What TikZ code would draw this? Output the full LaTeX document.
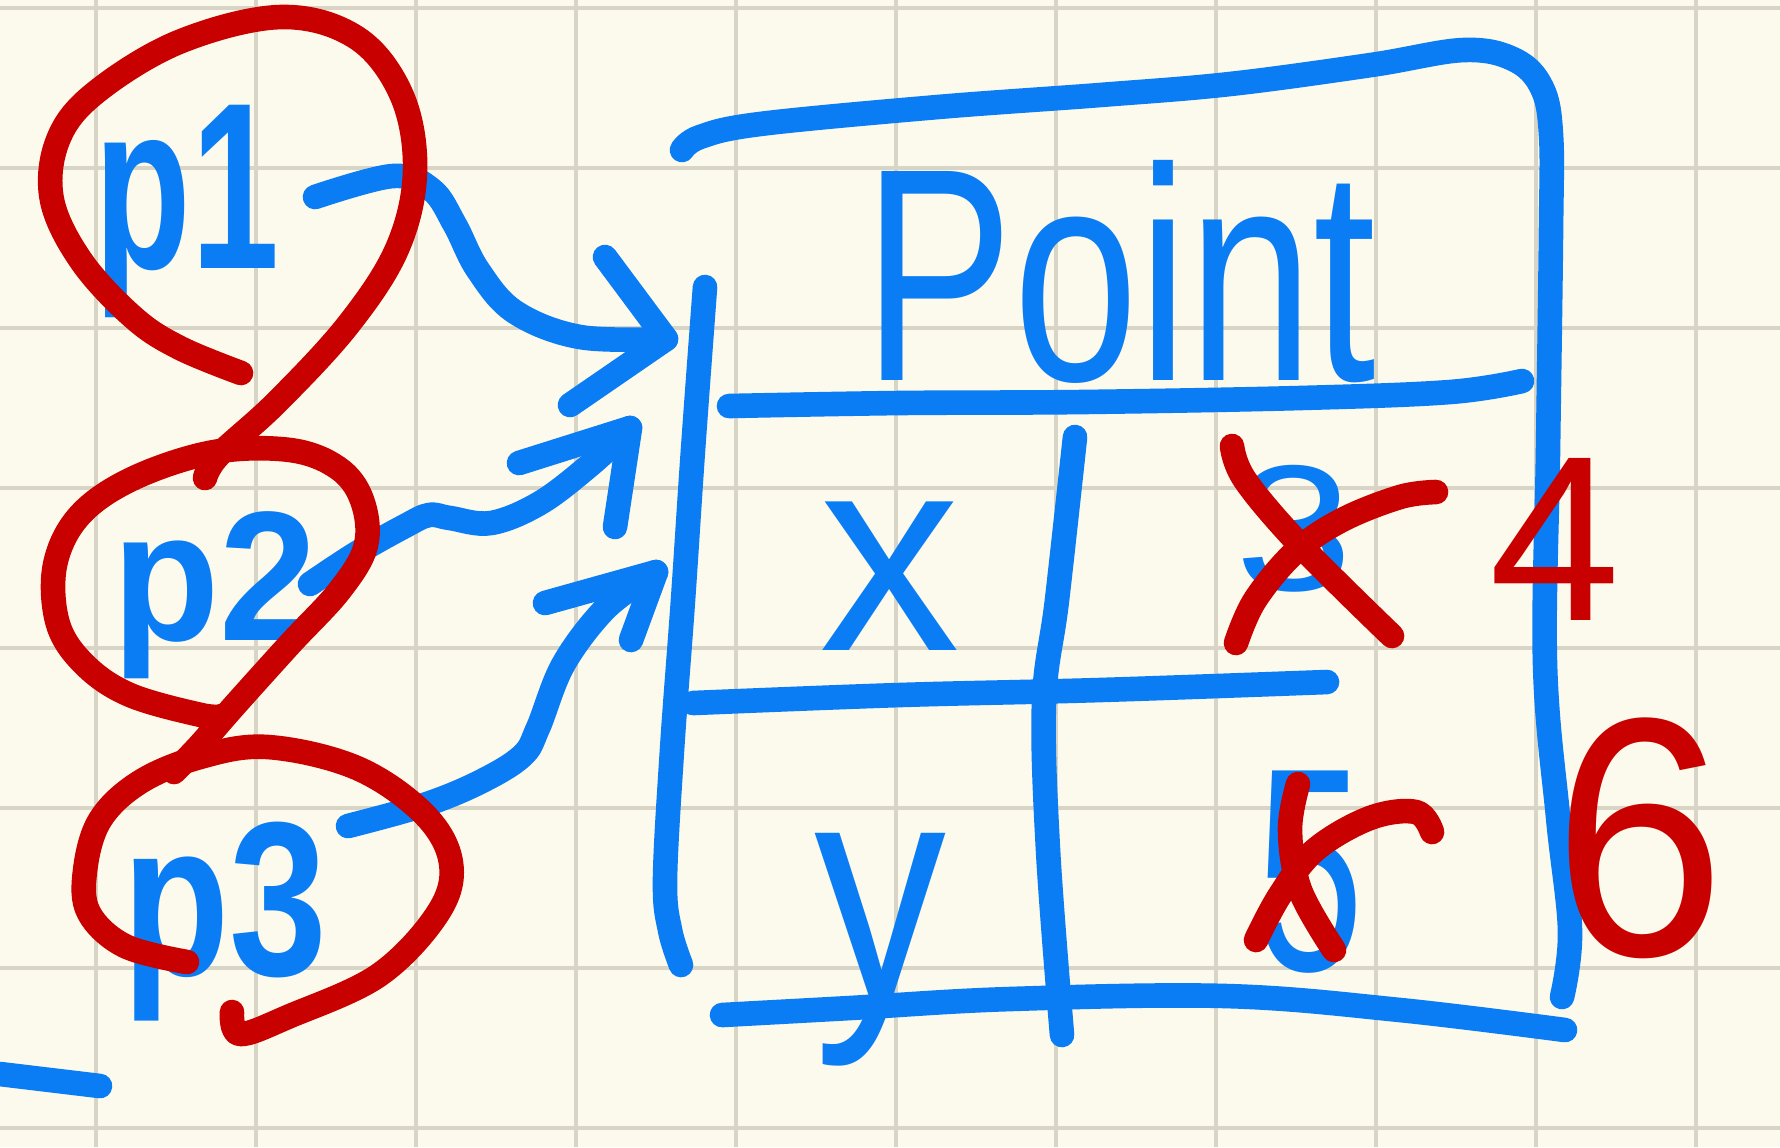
\documentclass[tikz,border=0pt]{standalone}
\usepackage{fontspec}
\setmainfont{Liberation Sans}
\definecolor{paper}{RGB}{252,250,236}
\definecolor{gridc}{RGB}{216,213,198}
\definecolor{inkblue}{RGB}{10,124,244}
\definecolor{inkred}{RGB}{200,0,0}
\tikzset{
  ink/.style={line width=7pt,line cap=round,line join=round},
  bl/.style={ink,draw=inkblue},
  rd/.style={ink,draw=inkred},
  blabel/.style={inner sep=0pt,anchor=base,text=inkblue},
  rlabel/.style={inner sep=0pt,anchor=base,text=inkred},
  fs/.style={font=\fontsize{#1}{#1}\selectfont},
  fsb/.style={font=\fontsize{#1}{#1}\selectfont\bfseries},
  gridline/.style={draw=gridc,line width=1pt},
  freehand/.style={smooth,tension=0.6},
}
\begin{document}
\begin{tikzpicture}[x=0.01cm,y=-0.01cm]
\fill[paper] (0,0) rectangle (1780,1147);
\useasboundingbox (0,0) rectangle (1780,1147);
% grid
\foreach \gx in {96,256,...,1696} \draw[gridline] (\gx,0) -- (\gx,1147);
\foreach \gy in {8,168,...,1128} \draw[gridline] (0,\gy) -- (1780,\gy);

% labels
\node[blabel,fsb=45] (p1) at (187,268) {\scalebox{1}[1.5]{p1}};
\node[blabel,fsb=50] (p2) at (215,640) {\scalebox{1}[1.05]{p2}};
\node[blabel,fsb=50] (p3) at (225,975) {\scalebox{1}[1.25]{p3}};
\node[blabel,fs=64] (point) at (1120,380) {\scalebox{1}[1.35]{Point}};
\node[blabel,fs=80] (xlab) at (890,650) {x};
\node[blabel,fs=75] (ylab) at (880,1000) {\scalebox{1}[1.2]{y}};
\node[blabel,fs=60] (v3) at (1294,590) {\scalebox{1}[0.85]{3}};
\node[blabel,fs=55] (v5) at (1310,970) {\scalebox{1}[1.5]{5}};

% box
\draw[bl] plot[freehand] coordinates {(682,150) (700,137) (760,124) (938,107) (1100,95) (1230,84) (1371,65) (1464,50) (1515,60) (1542,88) (1551,135) (1551,230) (1548,450) (1545,664) (1558,817) (1570,931) (1562,997)};
\draw[bl] plot[freehand] coordinates {(705,287) (693,450) (683,600) (672,750) (665,880) (670,930) (681,965)};
\draw[bl] plot[freehand] coordinates {(729,406) (900,403) (1082,402) (1300,398) (1450,392) (1522,381)};
\draw[bl] plot[freehand] coordinates {(693,703) (900,695) (1100,690) (1327,682)};
\draw[bl] plot[freehand] coordinates {(722,1015) (850,1008) (1010,999) (1226,996) (1400,1010) (1565,1030)};
\draw[bl] plot[freehand] coordinates {(1075,437) (1057,600) (1044,702) (1048,850) (1062,1035)};
\draw[bl] (0,1074) -- (100,1086);

% arrows
\coordinate (a1s) at (315,197);
\coordinate (a1t) at (666,339);
\coordinate (a2s) at (310,584);
\coordinate (a2t) at (630,428);
\coordinate (a3s) at (348,826);
\coordinate (a3t) at (656,572);
\draw[bl] plot[freehand] coordinates {(a1s) (393,176) (432,190) (455,225) (478,270) (515,312) (580,337) (a1t)};
\draw[bl] (605,257) -- (a1t) -- (570,405);
\draw[bl] plot[freehand] coordinates {(a2s) (357,553) (405,526) (429,515) (450,518) (491,523) (540,503) (590,465) (a2t)};
\draw[bl] (519,463) -- (a2t) -- (615,527);
\draw[bl] plot[freehand] coordinates {(a3s) (424,805) (480,782) (522,756) (538,728) (563,665) (603,611) (643,580) (a3t)};
\draw[bl] (545,603) -- (a3t) -- (631,640);

% red corrections
\node[rlabel,fs=67] (v4) at (1555,620) {4};
\node[rlabel,fs=88] (v6) at (1640,955) {\scalebox{1}[1.1]{6}};
\draw[rd] plot[freehand] coordinates {(1232,446) (1245,480) (1300,545) (1392,636)};
\draw[rd] plot[freehand] coordinates {(1436,492) (1400,497) (1342,520) (1295,552) (1255,600) (1236,643)};
\draw[rd] plot[freehand] coordinates {(1298,784) (1290,830) (1300,890) (1334,950)};
\draw[rd] plot[freehand] coordinates {(1432,832) (1416,812) (1370,818) (1315,850) (1280,895) (1256,940)};

% red loops round p1, p2, p3
\draw[rd] plot[freehand] coordinates {(241,373) (180,348) (134,318) (82,262) (52,200) (58,140) (95,93) (179,42) (281,17) (357,38) (402,96) (415,172) (397,249) (348,325) (277,402) (219,455) (205,478)};
\draw[rd] plot[freehand] coordinates {(174,772) (200,745) (235,705) (290,644) (340,590) (366,545) (362,500) (338,468) (290,450) (214,452) (134,478) (80,515) (55,565) (58,624) (85,665) (130,695) (201,715) (222,716)};
\draw[rd] plot[freehand] coordinates {(187,962) (125,946) (89,913) (85,871) (100,820) (140,782) (200,757) (268,747) (357,768) (424,814) (451,863) (438,913) (379,975) (290,1016) (240,1034) (232,1012)};
\end{tikzpicture}
\end{document}
